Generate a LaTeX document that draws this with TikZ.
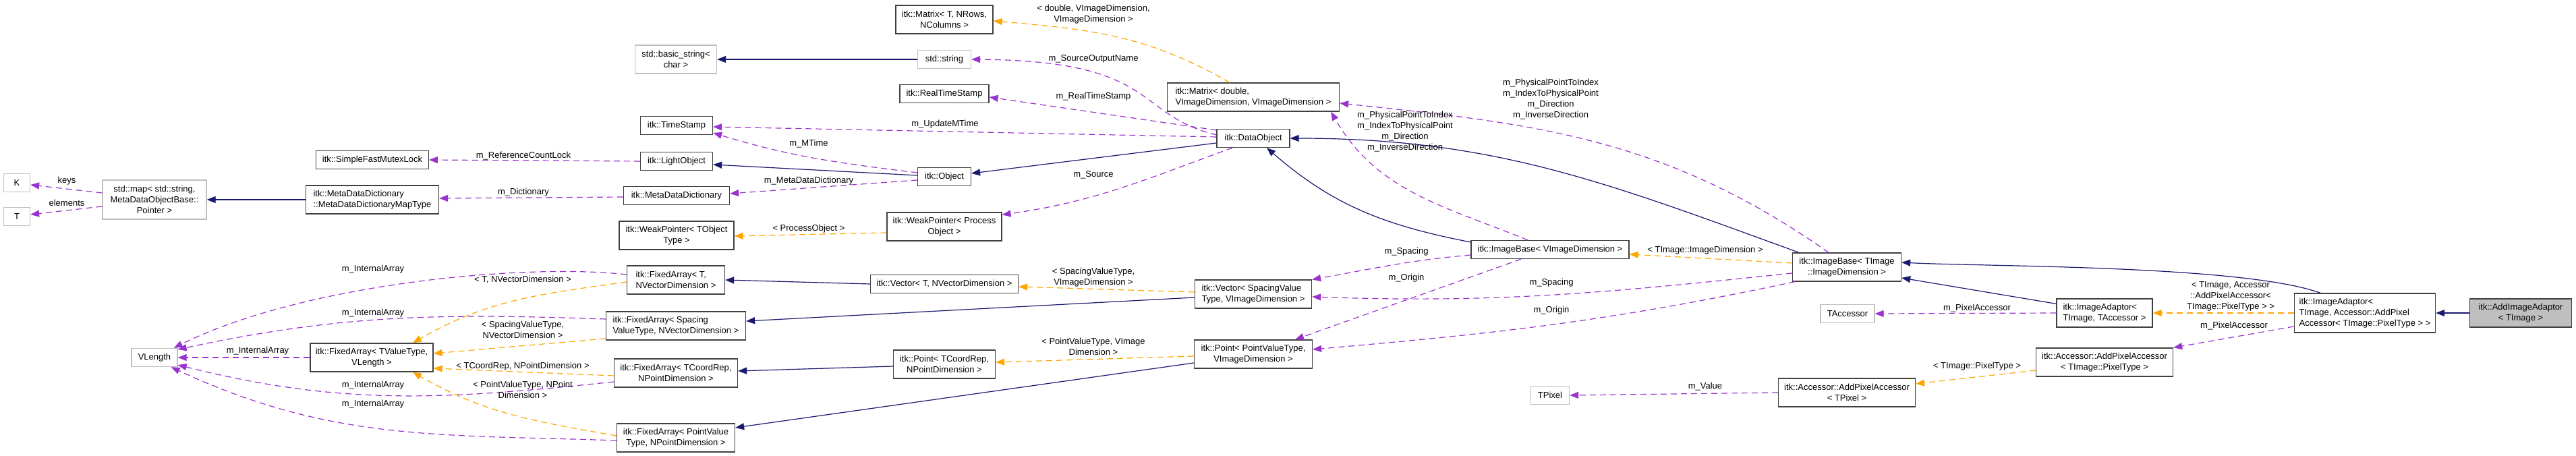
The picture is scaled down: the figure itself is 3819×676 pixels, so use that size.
\documentclass[tikz,border=0pt]{standalone}
\usepackage{fontspec}
\setmainfont{Liberation Sans}
\usetikzlibrary{arrows.meta}
\definecolor{inhblue}{RGB}{25,25,112}
\definecolor{usepurple}{RGB}{154,50,205}
\definecolor{tplorange}{RGB}{255,165,0}
\definecolor{extgray}{RGB}{191,191,191}
\definecolor{boxline}{RGB}{64,64,64}

\begin{document}
\begin{tikzpicture}[x=1pt, y=-1pt,
    every node/.style={font=\fontsize{13}{16}\selectfont},
    cls/.style={draw=boxline, line width=1.3pt, fill=white, inner xsep=4pt, inner ysep=2pt, minimum height=27pt, align=center},
    extcls/.style={cls, draw=extgray},
    curcls/.style={cls, fill=extgray},
    h2/.style={minimum height=42pt},
    h3/.style={minimum height=58pt},
    lbl/.style={inner sep=0pt, align=center},
    inherit/.style={draw=inhblue, line width=1.2pt, -{Triangle[length=13pt,width=10pt]}},
    member/.style={draw=usepurple, line width=1.2pt, dash pattern=on 9pt off 6pt, -{Triangle[length=13pt,width=10pt]}},
    tmpl/.style={member, draw=tplorange}]
  \useasboundingbox (0,0) rectangle (3819,676);

  % Dictionary and array helpers (far left)
  \node[extcls, minimum width=39pt] (kK) at (25,271) {K};
  \node[extcls, minimum width=39pt] (kT) at (25,321) {T};
  \node[extcls, h3, minimum width=154pt] (stdmap) at (229,296) {std::map< std::string,\\ MetaDataObjectBase::\\ Pointer >};
  \node[cls, minimum width=167pt] (mutex) at (552,237) {itk::SimpleFastMutexLock};
  \node[cls, h2, minimum width=197pt, align=left] (maptype) at (552,296) {itk::MetaDataDictionary\\::MetaDataDictionaryMapType};
  \node[extcls, minimum width=68pt] (vlength) at (229,530) {VLength};
  \node[cls, h2, minimum width=182pt] (fatv) at (551,530) {itk::FixedArray< TValueType,\\ VLength >};

  % Second column
  \node[extcls, h2, minimum width=121pt] (basicstr) at (1002,88) {std::basic\_string<\\ char >};
  \node[cls, minimum width=107pt] (tstamp) at (1003,186) {itk::TimeStamp};
  \node[cls, minimum width=107pt] (lightobj) at (1003,239) {itk::LightObject};
  \node[cls, minimum width=157pt] (mdd) at (1003,290) {itk::MetaDataDictionary};
  \node[cls, h2, minimum width=170pt] (wpto) at (1003,349) {itk::WeakPointer< TObject\\ Type >};
  \node[cls, h2, minimum width=145pt, align=left] (fat) at (1002,415) {itk::FixedArray< T,\\ NVectorDimension >};
  \node[cls, h2, minimum width=207pt, align=left] (fas) at (1002,483) {itk::FixedArray< Spacing\\ValueType, NVectorDimension >};
  \node[cls, h2, minimum width=183pt] (fac) at (1002,553) {itk::FixedArray< TCoordRep,\\ NPointDimension >};
  \node[cls, h2, minimum width=175pt] (fap) at (1002,649) {itk::FixedArray< PointValue\\Type, NPointDimension >};

  % Third column
  \node[cls, h2, minimum width=144pt] (matT) at (1400,29) {itk::Matrix< T, NRows,\\ NColumns >};
  \node[extcls, minimum width=79pt] (stdstr) at (1400,88) {std::string};
  \node[cls, minimum width=132pt] (rts) at (1400,139) {itk::RealTimeStamp};
  \node[cls, minimum width=79pt] (obj) at (1400,262) {itk::Object};
  \node[cls, h2, minimum width=170pt] (wpp) at (1400,336) {itk::WeakPointer< Process\\ Object >};
  \node[cls, minimum width=219pt] (vecT) at (1400,421) {itk::Vector< T, NVectorDimension >};
  \node[cls, h2, minimum width=151pt] (ptC) at (1400,540) {itk::Point< TCoordRep,\\ NPointDimension >};

  % Fourth column
  \node[cls, h2, minimum width=255pt, align=left] (matD) at (1858,144) {itk::Matrix< double,\\ VImageDimension, VImageDimension >};
  \node[cls, minimum width=108pt] (dobj) at (1858,205) {itk::DataObject};
  \node[cls, h2, minimum width=173pt, align=left] (vecS) at (1858,436) {itk::Vector< SpacingValue\\Type, VImageDimension >};
  \node[cls, h2, minimum width=175pt] (ptP) at (1858,525) {itk::Point< PointValueType,\\ VImageDimension >};

  % Image bases, accessors, adaptors
  \node[cls, minimum width=234pt] (ibV) at (2298,370) {itk::ImageBase< VImageDimension >};
  \node[extcls, minimum width=57pt] (tpixel) at (2298,586) {TPixel};
  \node[cls, h2, minimum width=161pt] (ibT) at (2738,396) {itk::ImageBase< TImage\\ ::ImageDimension >};
  \node[extcls, minimum width=80pt] (tacc) at (2739,465) {TAccessor};
  \node[cls, h2, minimum width=203pt] (apaP) at (2738,582) {itk::Accessor::AddPixelAccessor\\< TPixel >};
  \node[cls, h2, minimum width=142pt, align=left] (iaT) at (3120,464) {itk::ImageAdaptor<\\ TImage, TAccessor >};
  \node[cls, h2, minimum width=203pt] (apaT) at (3120,537) {itk::Accessor::AddPixelAccessor\\< TImage::PixelType >};
  \node[cls, h3, minimum width=209pt, align=left] (iaA) at (3506,464) {itk::ImageAdaptor<\\ TImage, Accessor::AddPixel\\Accessor< TImage::PixelType > >};
  \node[curcls, h2, minimum width=151pt] (aia) at (3737,464) {itk::AddImageAdaptor\\< TImage >};

  % Inheritance
  \draw[inherit] (maptype.west) -- (stdmap.east);
  \draw[inherit] (stdstr.west) -- (basicstr.east);
  \draw[inherit] ([yshift=2pt]obj.west) -- ([yshift=-5pt]lightobj.east);
  \draw[inherit] ([yshift=-7pt]dobj.west) -- ([yshift=5pt]obj.east);
  \draw[inherit] ([yshift=11pt]ibV.west) to[out=169, in=-41] ([xshift=20pt]dobj.south);
  \draw[inherit] ([xshift=10pt]ibT.north west) to[out=160, in=0] (dobj.east);
  \draw[inherit] (vecT.west) -- (fat.east);
  \draw[inherit] ([yshift=-5pt]vecS.west) -- ([yshift=7pt]fas.east);
  \draw[inherit] ([yshift=-3pt]ptC.west) -- ([yshift=3pt]fac.east);
  \draw[inherit] ([yshift=-13pt]ptP.west) -- ([yshift=15pt]fap.east);
  \draw[inherit] ([yshift=-8pt]iaT.north west) -- ([yshift=-16pt]ibT.east);
  \draw[inherit] ([xshift=-66pt]iaA.north) to[out=160, in=-3, looseness=0.5] ([yshift=7pt]ibT.east);
  \draw[inherit] (aia.west) -- (iaA.east);

  % Members
  \draw[member] ([yshift=10pt]stdmap.west) -- ([yshift=-3pt]kK.east);
  \draw[member] ([yshift=-10pt]stdmap.west) -- ([yshift=3pt]kT.east);
  \draw[member] (lightobj.west) -- (mutex.east);
  \draw[member] ([yshift=-2pt]mdd.west) -- ([yshift=2pt]maptype.east);
  \draw[member] ([yshift=6pt]obj.west) to[out=173, in=-17] ([yshift=-11pt]tstamp.east);
  \draw[member] ([yshift=-5pt]obj.west) -- ([yshift=3pt]mdd.east);
  \draw[member] ([yshift=2pt]dobj.west) -- ([yshift=-2pt]tstamp.east);
  \draw[member] ([yshift=12pt]dobj.west) -- ([yshift=-5pt]rts.east);
  \draw[member] ([yshift=5pt]dobj.west) .. controls (1680,170) and (1720,90) .. (stdstr.east);
  \draw[member] ([xshift=-31pt]dobj.south) to[out=200, in=8] ([yshift=-4pt]wpp.north east);
  \draw[member] ([yshift=-8pt]ibV.west) to[out=185, in=10] (vecS.north east);
  \draw[member] ([xshift=-43pt]ibV.south) -- ([xshift=62pt]ptP.north);
  \draw[member] ([xshift=-33pt]ibV.north) to[out=158, in=-60] ([xshift=-13pt]matD.south east);
  \draw[member] ([xshift=-27pt]ibT.north) to[out=145, in=-6] ([yshift=-9pt]matD.east);
  \draw[member] ([yshift=-9pt]ibT.west) to[out=186, in=-2] ([yshift=-4pt]vecS.east);
  \draw[member] ([xshift=4pt]ibT.south west) to[out=192, in=5] ([yshift=7pt]ptP.east);
  \draw[member] (iaT.west) -- (tacc.east);
  \draw[member] (apaP.west) -- (tpixel.east);
  \draw[member] ([yshift=-20pt]iaA.west) -- (apaT.north east);
  \draw[member] (fatv.west) -- (vlength.east);
  \draw[member] ([yshift=8pt]fat.west) .. controls (780,390) and (450,420) .. ([xshift=-6pt]vlength.north east);
  \draw[member] ([yshift=10pt]fas.west) to[out=178, in=12] ([yshift=12pt]vlength.east);
  \draw[member] ([yshift=-13pt]fac.west) to[out=186, in=-14] ([yshift=-11pt]vlength.east);
  \draw[member] ([yshift=-4pt]fap.west) to[out=178, in=-25] ([xshift=-10pt]vlength.south east);

  % Template instances
  \draw[tmpl] ([yshift=-3pt]fat.west) to[out=188, in=30] ([xshift=61pt]fatv.north);
  \draw[tmpl] ([yshift=-19pt]fas.west) -- ([yshift=6pt]fatv.east);
  \draw[tmpl] ([yshift=-4pt]fac.west) -- ([yshift=-16pt]fatv.east);
  \draw[tmpl] ([yshift=3pt]fap.west) to[out=170, in=-30] ([xshift=61pt]fatv.south);
  \draw[tmpl] ([yshift=-9pt]wpp.west) -- ([yshift=-1pt]wpto.east);
  \draw[tmpl] ([xshift=-35pt]matD.north) to[out=150, in=-5] ([yshift=-2pt]matT.east);
  \draw[tmpl] ([yshift=3pt]vecS.west) -- ([yshift=-4pt]vecT.east);
  \draw[tmpl] ([yshift=-3pt]ptP.west) -- ([yshift=3pt]ptC.east);
  \draw[tmpl] ([yshift=6pt]ibT.west) -- ([yshift=-7pt]ibV.east);
  \draw[tmpl] ([yshift=-12pt]apaT.west) -- ([yshift=13pt]apaP.east);
  \draw[tmpl] (iaA.west) -- (iaT.east);

  % Edge labels
  \node[lbl] (lKeys) at (99,268) {keys};
  \node[lbl] (lElem) at (99,301) {elements};
  \node[lbl] (lRefLock) at (776,231) {m\_ReferenceCountLock};
  \node[lbl] (lDict) at (776,285) {m\_Dictionary};
  \foreach \px/\py [count=\i] in {553/399,553/464,382/520,553/571,553/599}
    \node[lbl] (lIntArr\i) at (\px,\py) {m\_InternalArray};
  \node[lbl] (lTNV) at (775,415) {< T, NVectorDimension >};
  \node[lbl] (lSNV) at (775,489) {< SpacingValueType,\\ NVectorDimension >};
  \node[lbl] (lCNP) at (775,543) {< TCoordRep, NPointDimension >};
  \node[lbl] (lPNP) at (775,578) {< PointValueType, NPoint\\ Dimension >};
  \node[lbl] (lMTime) at (1199,213) {m\_MTime};
  \node[lbl] (lMDD) at (1199,268) {m\_MetaDataDictionary};
  \node[lbl] (lProc) at (1199,339) {< ProcessObject >};
  \node[lbl] (lUpd) at (1401,184) {m\_UpdateMTime};
  \node[lbl] (lDVV) at (1621,21) {< double, VImageDimension,\\ VImageDimension >};
  \node[lbl] (lSrcName) at (1621,87) {m\_SourceOutputName};
  \node[lbl] (lRTS) at (1621,143) {m\_RealTimeStamp};
  \node[lbl] (lSrc) at (1621,259) {m\_Source};
  \node[lbl] (lSVD) at (1621,411) {< SpacingValueType,\\ VImageDimension >};
  \node[lbl] (lPVD) at (1621,514) {< PointValueType, VImage\\ Dimension >};
  \node[lbl] (lDirV) at (2083,195) {m\_PhysicalPointToIndex\\ m\_IndexToPhysicalPoint\\ m\_Direction\\ m\_InverseDirection};
  \node[lbl] (lDirT) at (2299,147) {m\_PhysicalPointToIndex\\ m\_IndexToPhysicalPoint\\ m\_Direction\\ m\_InverseDirection};
  \node[lbl] (lSpV) at (2085,373) {m\_Spacing};
  \node[lbl] (lOrV) at (2085,412) {m\_Origin};
  \node[lbl] (lSpT) at (2300,419) {m\_Spacing};
  \node[lbl] (lOrT) at (2300,460) {m\_Origin};
  \node[lbl] (lImgDim) at (2528,371) {< TImage::ImageDimension >};
  \node[lbl] (lValue) at (2528,573) {m\_Value};
  \node[lbl] (lPixAccT) at (2931,457) {m\_PixelAccessor};
  \node[lbl] (lPixType) at (2931,543) {< TImage::PixelType >};
  \node[lbl] (lAddPix) at (3307,439) {< TImage, Accessor\\::AddPixelAccessor<\\ TImage::PixelType > >};
  \node[lbl] (lPixAccA) at (3312,483) {m\_PixelAccessor};
\end{tikzpicture}
\end{document}
